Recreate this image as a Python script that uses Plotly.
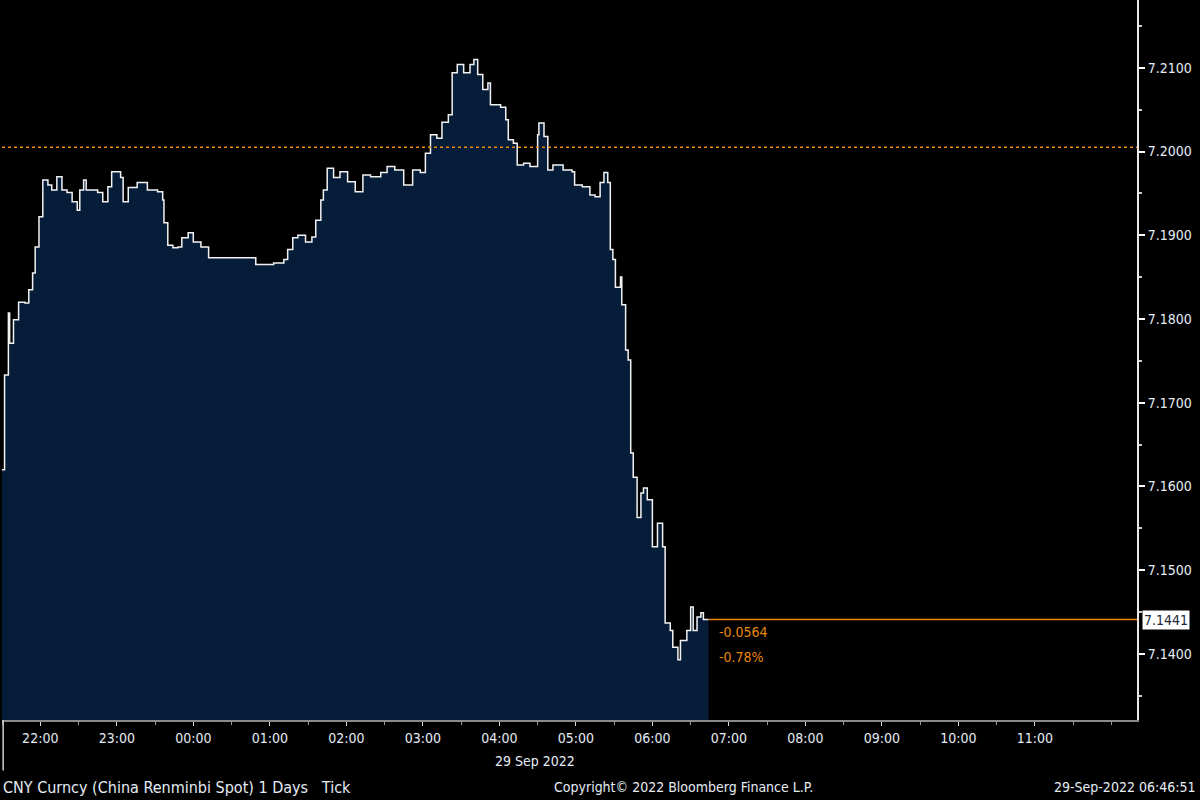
"""CNY Curncy intraday tick chart, Bloomberg-style dark theme."""

import plotly.graph_objects as go

# CNY spot, step-wise ticks
times = [
    "2022-09-28 21:30", "2022-09-28 21:32", "2022-09-28 21:35", "2022-09-28 21:36",
    "2022-09-28 21:39", "2022-09-28 21:43", "2022-09-28 21:48", "2022-09-28 21:51",
    "2022-09-28 21:54", "2022-09-28 21:56", "2022-09-28 21:59", "2022-09-28 22:02",
    "2022-09-28 22:06", "2022-09-28 22:09", "2022-09-28 22:13", "2022-09-28 22:17",
    "2022-09-28 22:21", "2022-09-28 22:25", "2022-09-28 22:29", "2022-09-28 22:31",
    "2022-09-28 22:34", "2022-09-28 22:36", "2022-09-28 22:39", "2022-09-28 22:45",
    "2022-09-28 22:49", "2022-09-28 22:53", "2022-09-28 22:56", "2022-09-28 23:03",
    "2022-09-28 23:05", "2022-09-28 23:09", "2022-09-28 23:16", "2022-09-28 23:20",
    "2022-09-28 23:24", "2022-09-28 23:32", "2022-09-28 23:36", "2022-09-28 23:37",
    "2022-09-28 23:40", "2022-09-28 23:44", "2022-09-28 23:48", "2022-09-28 23:51",
    "2022-09-28 23:56", "2022-09-29 00:00", "2022-09-29 00:06", "2022-09-29 00:11",
    "2022-09-29 00:12", "2022-09-29 00:27", "2022-09-29 00:45", "2022-09-29 00:49",
    "2022-09-29 00:58", "2022-09-29 01:03", "2022-09-29 01:11", "2022-09-29 01:14",
    "2022-09-29 01:18", "2022-09-29 01:22", "2022-09-29 01:28", "2022-09-29 01:33",
    "2022-09-29 01:36", "2022-09-29 01:40", "2022-09-29 01:42", "2022-09-29 01:45",
    "2022-09-29 01:50", "2022-09-29 01:55", "2022-09-29 02:01", "2022-09-29 02:07",
    "2022-09-29 02:13", "2022-09-29 02:19", "2022-09-29 02:27", "2022-09-29 02:32",
    "2022-09-29 02:38", "2022-09-29 02:45", "2022-09-29 02:52", "2022-09-29 02:58",
    "2022-09-29 03:02", "2022-09-29 03:06", "2022-09-29 03:11", "2022-09-29 03:15",
    "2022-09-29 03:20", "2022-09-29 03:23", "2022-09-29 03:27", "2022-09-29 03:32",
    "2022-09-29 03:37", "2022-09-29 03:40", "2022-09-29 03:43", "2022-09-29 03:47",
    "2022-09-29 03:51", "2022-09-29 03:53", "2022-09-29 04:01", "2022-09-29 04:05",
    "2022-09-29 04:07", "2022-09-29 04:11", "2022-09-29 04:14", "2022-09-29 04:19",
    "2022-09-29 04:24", "2022-09-29 04:30", "2022-09-29 04:31", "2022-09-29 04:35",
    "2022-09-29 04:38", "2022-09-29 04:42", "2022-09-29 04:50", "2022-09-29 04:57",
    "2022-09-29 04:59", "2022-09-29 05:05", "2022-09-29 05:11", "2022-09-29 05:15",
    "2022-09-29 05:19", "2022-09-29 05:22", "2022-09-29 05:25", "2022-09-29 05:27",
    "2022-09-29 05:29", "2022-09-29 05:31", "2022-09-29 05:35", "2022-09-29 05:36",
    "2022-09-29 05:39", "2022-09-29 05:41", "2022-09-29 05:43", "2022-09-29 05:45",
    "2022-09-29 05:48", "2022-09-29 05:51", "2022-09-29 05:53", "2022-09-29 05:56",
    "2022-09-29 06:00", "2022-09-29 06:04", "2022-09-29 06:08", "2022-09-29 06:10",
    "2022-09-29 06:14", "2022-09-29 06:16", "2022-09-29 06:20", "2022-09-29 06:22",
    "2022-09-29 06:27", "2022-09-29 06:30", "2022-09-29 06:32", "2022-09-29 06:35",
    "2022-09-29 06:38", "2022-09-29 06:40", "2022-09-29 06:44",
]
prices = [
    7.1620, 7.1733, 7.1807, 7.1771,
    7.1799, 7.1820, 7.1819, 7.1835,
    7.1855, 7.1886, 7.1922, 7.1966,
    7.1960, 7.1954, 7.1970, 7.1954,
    7.1951, 7.1940, 7.1930, 7.1954,
    7.1966, 7.1954, 7.1954, 7.1951,
    7.1940, 7.1958, 7.1976, 7.1969,
    7.1940, 7.1957, 7.1963, 7.1963,
    7.1954, 7.1952, 7.1942, 7.1915,
    7.1888, 7.1885, 7.1886, 7.1897,
    7.1903, 7.1892, 7.1886, 7.1886,
    7.1873, 7.1873, 7.1873, 7.1865,
    7.1865, 7.1867, 7.1871, 7.1883,
    7.1897, 7.1900, 7.1892, 7.1898,
    7.1918, 7.1942, 7.1954, 7.1980,
    7.1969, 7.1976, 7.1964, 7.1952,
    7.1972, 7.1970, 7.1975, 7.1982,
    7.1978, 7.1960, 7.1978, 7.1975,
    7.1998, 7.2020, 7.2016, 7.2035,
    7.2044, 7.2094, 7.2104, 7.2094,
    7.2104, 7.2110, 7.2092, 7.2074,
    7.2082, 7.2056, 7.2053, 7.2038,
    7.2014, 7.2010, 7.1984, 7.1986,
    7.1982, 7.2020, 7.2034, 7.2018,
    7.1978, 7.1984, 7.1978, 7.1976,
    7.1960, 7.1958, 7.1948, 7.1946,
    7.1963, 7.1975, 7.1963, 7.1883,
    7.1871, 7.1838, 7.1850, 7.1817,
    7.1763, 7.1751, 7.1640, 7.1611,
    7.1563, 7.1592, 7.1598, 7.1584,
    7.1528, 7.1556, 7.1528, 7.1437,
    7.1428, 7.1408, 7.1393, 7.1416,
    7.1428, 7.1456, 7.1428, 7.1444,
    7.1449, 7.1441, 7.1441,
]

prev_close = 7.2005
last_price = prices[-1]
net_change = "-0.0564"
pct_change = "-0.78%"

y_ticks = [7.14, 7.15, 7.16, 7.17, 7.18, 7.19, 7.20, 7.21]
x_ticks = [
    "2022-09-28 22:00", "2022-09-28 23:00", "2022-09-29 00:00", "2022-09-29 01:00",
    "2022-09-29 02:00", "2022-09-29 03:00", "2022-09-29 04:00", "2022-09-29 05:00",
    "2022-09-29 06:00", "2022-09-29 07:00", "2022-09-29 08:00", "2022-09-29 09:00",
    "2022-09-29 10:00", "2022-09-29 11:00",
]
x_start, x_end = "2022-09-28 21:30", "2022-09-29 12:20"

ORANGE = "#e8890c"
TEXT = "#e4ecf4"
FONT = "DejaVu Sans Condensed, Liberation Sans, sans-serif"

fig = go.Figure()
fig.add_trace(go.Scatter(
    x=times, y=prices, mode="lines", line_shape="hv",
    line=dict(color="#f2f2f2", width=1.5),
    fill="tozeroy", fillcolor="#061d3a",
    hoverinfo="skip", showlegend=False,
))

# previous close (dotted) and last price (solid)
fig.add_shape(type="line", xref="paper", x0=0, x1=1, y0=prev_close, y1=prev_close,
              line=dict(color=ORANGE, width=1.5, dash="dot"))
fig.add_shape(type="line", x0=times[-1], x1=x_end, y0=last_price, y1=last_price,
              line=dict(color=ORANGE, width=1.5))
# left separator under the time axis
fig.add_shape(type="line", xref="paper", yref="paper", x0=0.001, x1=0.001, y0=0, y1=-0.07,
              line=dict(color="#d0d0d0", width=1.5))

fig.add_annotation(x=1, xref="paper", y=last_price, text=f"{last_price:.4f}",
                   xanchor="left", xshift=5, showarrow=False,
                   font=dict(family=FONT, size=14, color="#1a2a3a"),
                   bgcolor="#ffffff", borderpad=1)
fig.add_annotation(x=times[-1], y=last_price, text=net_change, xanchor="left",
                   yanchor="top", xshift=8, yshift=-2, showarrow=False,
                   font=dict(family=FONT, size=14, color=ORANGE))
fig.add_annotation(x=times[-1], y=last_price, text=pct_change, xanchor="left",
                   yanchor="top", xshift=8, yshift=-27, showarrow=False,
                   font=dict(family=FONT, size=14, color=ORANGE))

# footer
fig.add_annotation(x="2022-09-29 04:28", y=0, yref="paper", yshift=-41, text="29 Sep 2022",
                   showarrow=False, yanchor="middle",
                   font=dict(family=FONT, size=14, color=TEXT))
fig.add_annotation(x=0, xref="paper", y=0, yref="paper", yshift=-67, xshift=-1,
                   text="CNY Curncy (China Renminbi Spot) 1 Days&nbsp;&nbsp;&nbsp;Tick",
                   xanchor="left", yanchor="middle", showarrow=False,
                   font=dict(family=FONT, size=16, color=TEXT))
fig.add_annotation(x=0.6, xref="paper", y=0, yref="paper", yshift=-67,
                   text="Copyright© 2022 Bloomberg Finance L.P.",
                   xanchor="center", yanchor="middle", showarrow=False,
                   font=dict(family=FONT, size=14, color=TEXT))
fig.add_annotation(x=1, xref="paper", y=0, yref="paper", yshift=-67, xshift=60,
                   text="29-Sep-2022 06:46:51",
                   xanchor="right", yanchor="middle", showarrow=False,
                   font=dict(family=FONT, size=14, color=TEXT))

fig.update_layout(
    width=1200, height=800,
    paper_bgcolor="#000000", plot_bgcolor="#000000",
    margin=dict(l=2, r=63, t=0, b=80),
    font=dict(family=FONT, size=14, color=TEXT),
    xaxis=dict(
        type="date", range=[x_start, x_end],
        tickvals=x_ticks, tickformat="%H:%M",
        ticks="outside", ticklen=4, tickcolor="#d8d8d8",
        minor=dict(dtick=30 * 60 * 1000, ticks="outside", ticklen=3, tickcolor="#9a9a9a"),
        showgrid=False, zeroline=False,
        showline=True, linecolor="#8a8a8a", linewidth=1.5,
        tickfont=dict(family=FONT, size=14, color=TEXT),
    ),
    yaxis=dict(
        side="right", range=[7.1321, 7.2181],
        tickvals=y_ticks, tickformat=".4f",
        ticks="outside", ticklen=6, tickwidth=2, tickcolor="#ffffff",
        minor=dict(dtick=0.005, tick0=7.14, ticks="outside", ticklen=3, tickcolor="#cccccc"),
        showgrid=False, zeroline=False,
        showline=True, linecolor="#e8e8e8", linewidth=2,
        tickfont=dict(family=FONT, size=14, color=TEXT),
        automargin=False,
    ),
)

# drop the browser's default body margin so the 1200x800 figure fills the window
fig.write_html("out.html", config={"displayModeBar": False},
               post_script="document.body.style.margin='0';")
